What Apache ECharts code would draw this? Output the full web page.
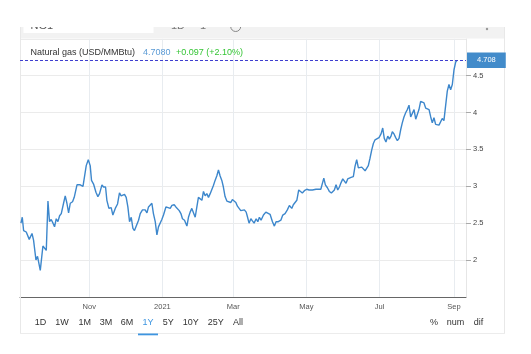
<!DOCTYPE html>
<html><head><meta charset="utf-8">
<script src="https://cdn.jsdelivr.net/npm/echarts@6/dist/echarts.min.js"></script>
<style>html,body{margin:0;padding:0;background:#fff}#c{width:531px;height:354px}</style>
</head><body><div id="c"></div>
<script>
// Days since 2020-09-01
const days = [4.1,5.2,6.3,8.5,11.0,13.3,14.6,16.6,17.9,20.2,21.0,22.4,23.8,25.2,26.6,27.9,29.3,30.8,32.1,33.5,34.9,36.3,37.7,39.6,41.0,42.4,43.8,45.2,47.1,48.5,50.8,52.1,53.5,55.8,57.1,58.5,60.2,61.8,62.9,64.6,66.6,68.2,69.6,71.6,72.9,74.6,75.7,77.4,79.3,80.7,82.7,84.6,86.2,87.6,89.1,90.4,91.8,93.2,94.6,96.0,97.4,98.7,100.1,102.1,103.5,105.4,107.6,109.1,110.4,111.8,113.2,114.5,116.0,117.4,118.7,120.1,121.5,122.9,124.9,126.5,128.5,129.9,131.8,133.2,134.5,136.0,137.4,138.7,140.4,142.4,143.7,145.1,146.5,147.9,149.3,150.7,152.0,153.4,154.9,156.2,157.6,159.0,160.4,161.8,163.2,164.5,165.9,167.3,168.7,170.1,171.5,172.8,174.2,175.7,177.0,179.0,180.3,181.8,183.2,184.5,185.9,187.3,188.7,190.3,191.8,192.8,194.2,195.7,197.0,198.4,200.1,201.5,202.8,204.2,206.2,208.2,209.8,211.7,213.7,215.3,216.7,218.6,220.7,222.3,224.2,226.1,227.8,229.8,231.1,232.6,234.0,235.6,237.0,238.6,240.3,242.3,244.2,245.6,247.0,248.4,250.0,252.0,254.0,255.6,256.5,257.8,259.5,261.1,262.8,264.0,265.3,266.7,268.1,269.5,270.9,272.3,273.6,275.0,276.4,277.8,279.2,281.1,282.5,283.9,285.3,286.7,288.1,289.4,290.9,292.3,293.6,295.0,296.4,297.8,299.2,300.6,302.5,304.2,305.6,306.9,308.3,309.8,311.1,312.5,313.6,315.0,316.4,317.8,319.2,320.6,321.9,323.3,324.8,326.1,327.5,328.9,330.3,331.7,333.1,334.4,335.8,337.2,338.6,340.0,341.4,342.7,344.2,345.6,346.9,348.3,349.7,351.1,352.5,353.9,355.2,356.6,358.0,359.4,360.8,362.2,363.6,365.0,366.4,367.5];
const prices = [2.50,2.58,2.40,2.38,2.28,2.36,2.27,2.00,2.05,1.86,1.85,2.19,2.20,2.13,2.80,2.52,2.55,2.50,2.45,2.56,2.52,2.60,2.63,2.77,2.87,2.77,2.64,2.77,2.79,2.85,3.02,3.00,3.02,3.00,3.00,3.28,3.36,3.28,3.08,3.03,2.92,2.86,2.90,3.02,2.99,2.99,2.81,2.70,2.71,2.61,2.70,2.76,2.91,2.87,2.86,2.89,2.85,2.72,2.52,2.58,2.43,2.40,2.42,2.54,2.63,2.68,2.68,2.64,2.72,2.70,2.77,2.63,2.52,2.34,2.45,2.43,2.55,2.61,2.72,2.73,2.70,2.74,2.75,2.72,2.74,2.67,2.63,2.56,2.54,2.46,2.58,2.65,2.70,2.71,2.58,2.72,2.85,2.85,2.81,2.93,2.87,2.90,2.85,2.90,2.89,3.01,3.08,3.14,3.22,3.14,3.08,2.99,2.86,2.80,2.78,2.78,2.82,2.82,2.78,2.73,2.70,2.67,2.66,2.68,2.65,2.59,2.50,2.56,2.53,2.50,2.56,2.52,2.58,2.54,2.61,2.65,2.64,2.62,2.52,2.46,2.52,2.52,2.54,2.61,2.63,2.68,2.74,2.70,2.75,2.74,2.81,2.95,2.96,2.91,2.94,2.96,2.95,2.93,2.95,2.93,2.96,2.96,2.96,2.96,3.11,3.02,2.98,2.93,2.91,2.89,2.95,3.02,2.95,2.99,3.05,3.10,3.08,3.04,3.10,3.09,3.12,3.13,3.27,3.36,3.25,3.25,3.26,3.25,3.21,3.19,3.28,3.38,3.49,3.58,3.63,3.65,3.66,3.71,3.79,3.65,3.60,3.68,3.64,3.68,3.74,3.71,3.66,3.62,3.65,3.77,3.86,3.94,4.00,4.04,4.10,3.94,3.95,4.04,3.91,3.93,4.04,4.15,4.14,4.13,4.06,4.07,4.04,3.94,3.86,3.93,3.84,3.85,3.83,3.84,3.92,3.89,3.89,4.29,4.38,4.31,4.38,4.58,4.685,4.708];
const monthTickDays = [61,122,181,242,303,365];
const monthTickLabels = ['Nov','2021','Mar','May','Jul','Sep'];
const yTicks = [2,2.5,3,3.5,4,4.5];
const lastPrice = 4.708;
const headerName = 'Natural gas (USD/MMBtu)';
const headerPrice = '4.7080';
const headerChange = '+0.097 (+2.10%)';
const rangeButtons = ['1D','1W','1M','3M','6M','1Y','5Y','10Y','25Y','All'];
const activeRange = '1Y';
const modeButtons = ['%','num','dif'];

const FONT = 'Liberation Sans, Arial, sans-serif';
const seriesData = days.map((d, i) => [d, prices[i]]);
const labelMap = {};
monthTickDays.forEach((d, i) => labelMap[d] = monthTickLabels[i]);

const rangeX = [40.6,62,84.7,106,127,148,168.3,190.7,215.7,238];
const modeX = [434,455.5,478.5];

const graphic = [
  {type:'rect', shape:{x:20,y:27,width:484,height:11.5}, style:{fill:'#f2f2f2'}, z:1},
  {type:'rect', shape:{x:23.5,y:27,width:130,height:6}, style:{fill:'#fff'}, z:2},
  {type:'text', x:30.5, y:31, style:{text:'NG1', font:'11px '+FONT, fill:'#555', textVerticalAlign:'bottom'}, z:3},
  {type:'text', x:171, y:31, style:{text:'1D', font:'11px '+FONT, fill:'#777', textVerticalAlign:'bottom'}, z:3},
  {type:'text', x:200, y:31, style:{text:'1', font:'11px '+FONT, fill:'#777', textVerticalAlign:'bottom'}, z:3},
  {type:'circle', shape:{cx:235.7,cy:26.5,r:5}, style:{fill:'none', stroke:'#888', lineWidth:1}, z:3},
  {type:'circle', shape:{cx:487,cy:29,r:1.2}, style:{fill:'#999'}, z:3},
  {type:'rect', shape:{x:0,y:0,width:531,height:27}, style:{fill:'#fff'}, z:10},
  {type:'line', shape:{x1:20.5,y1:27,x2:20.5,y2:333.5}, style:{stroke:'#e8e8e8', lineWidth:1}, z:1},
  {type:'line', shape:{x1:504.5,y1:27,x2:504.5,y2:333.5}, style:{stroke:'#e8e8e8', lineWidth:1}, z:1},
  {type:'line', shape:{x1:20,y1:333.5,x2:505,y2:333.5}, style:{stroke:'#ececec', lineWidth:1}, z:1},
  {type:'text', x:30.5, y:52.5, style:{text:headerName, font:'9px '+FONT, fill:'#333', textVerticalAlign:'middle'}, z:5},
  {type:'text', x:143, y:52.5, style:{text:headerPrice, font:'9px '+FONT, fill:'#5b9bd5', textVerticalAlign:'middle'}, z:5},
  {type:'text', x:176, y:52.5, style:{text:headerChange, font:'9px '+FONT, fill:'#35c535', textVerticalAlign:'middle'}, z:5},
  {type:'rect', shape:{x:138,y:333.5,width:20,height:1.8}, style:{fill:'#3d95e0'}, z:6}
];
rangeButtons.forEach((b, i) => graphic.push({type:'text', x:rangeX[i], y:323, style:{text:b, font:'9px '+FONT, fill: b===activeRange ? '#3d95e0' : '#333', textAlign:'center', textVerticalAlign:'middle'}, z:5}));
modeButtons.forEach((b, i) => graphic.push({type:'text', x:modeX[i], y:323, style:{text:b, font:'9px '+FONT, fill:'#333', textAlign:'center', textVerticalAlign:'middle'}, z:5}));

const chart = echarts.init(document.getElementById('c'), null, {renderer:'canvas'});
chart.setOption({
  animation:false,
  backgroundColor:'#fff',
  textStyle:{fontFamily:FONT},
  grid:{left:20, right:65, top:38.8, bottom:57.1, containLabel:false},
  xAxis:{
    type:'value', min:3.3, max:375,
    axisLine:{show:true, lineStyle:{color:'#666', width:1}},
    axisTick:{show:false, customValues:monthTickDays},
    axisLabel:{customValues:monthTickDays, formatter:v => labelMap[v] || '', fontSize:7.5, color:'#555', margin:6, fontFamily:FONT},
    splitLine:{show:true, lineStyle:{color:'#e8ecf0', width:1}}
  },
  yAxis:{
    type:'value', position:'right', min:1.5, max:5, interval:0.5,
    axisLine:{show:true, lineStyle:{color:'#e6e6e6'}},
    axisTick:{show:true, length:5, lineStyle:{color:'#aaa'}},
    axisLabel:{showMinLabel:false, showMaxLabel:false, fontSize:7.5, color:'#444', margin:7, fontFamily:FONT,
      formatter:v => yTicks.indexOf(v) >= 0 ? String(v) : ''},
    splitLine:{show:true, lineStyle:{color:'#ebebeb', width:1}}
  },
  series:[{
    type:'line', data:seriesData, showSymbol:false, symbol:'none',
    lineStyle:{color:'#3d87cc', width:1.4}, itemStyle:{color:'#3d87cc'},
    markLine:{
      silent:true, symbol:['none','none'], animation:false,
      lineStyle:{color:'#3f3fcf', type:[3,2], width:1},
      label:{position:'end', formatter:String(lastPrice), backgroundColor:'#428bca', color:'#fff', fontSize:7.5, fontWeight:'normal', padding:[4,10,3.5,10], distance:1, fontFamily:FONT},
      data:[{yAxis:lastPrice}]
    }
  }],
  graphic:graphic
});
</script></body></html>
